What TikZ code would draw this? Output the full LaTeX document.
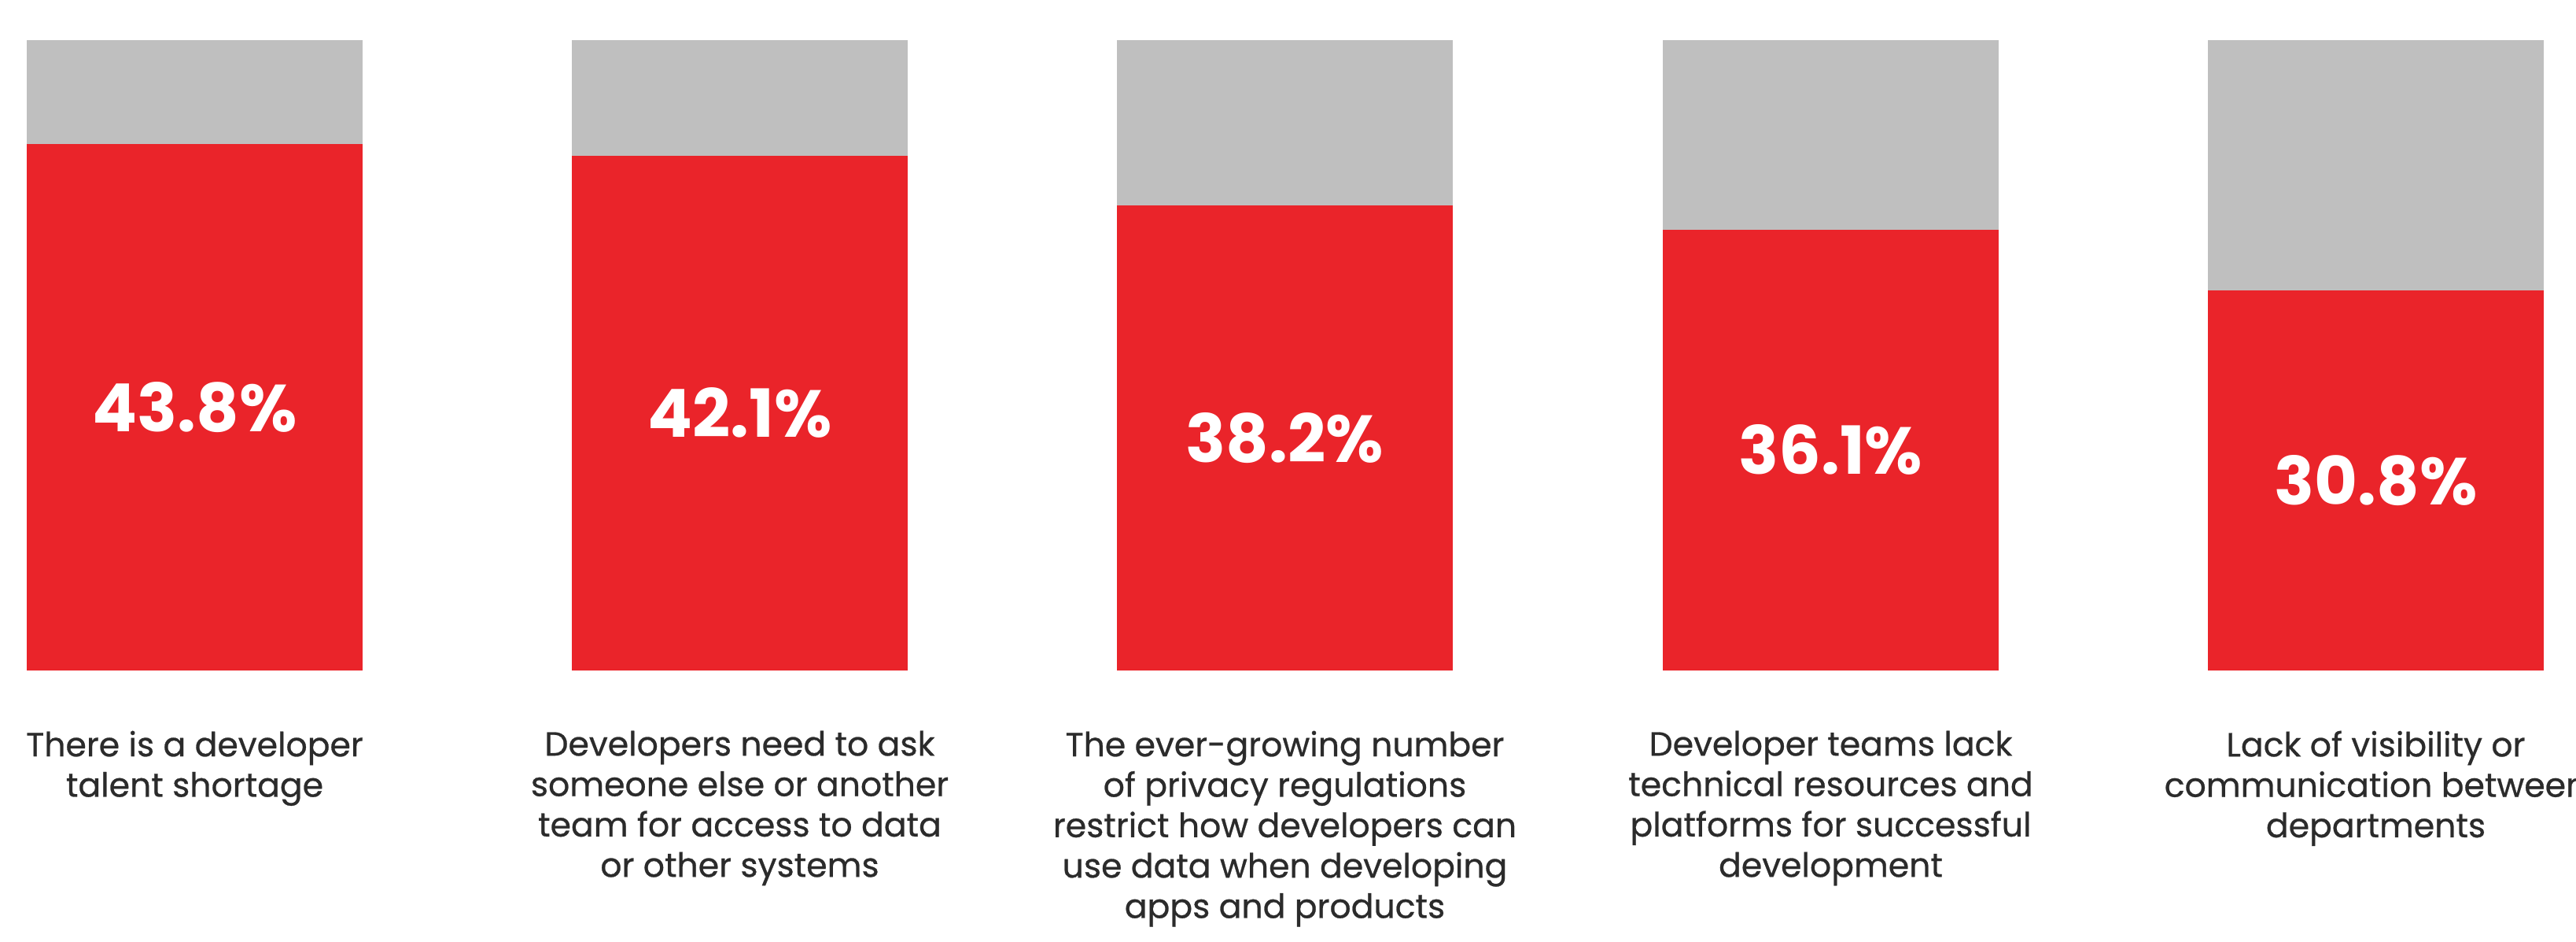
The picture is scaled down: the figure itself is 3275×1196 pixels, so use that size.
\documentclass[tikz,border=0pt]{standalone}
\usepackage{fontspec}
\setmainfont{Poppins}
\newfontfamily\descfont{Poppins}[FakeBold=0.6]
\definecolor{barred}{HTML}{EA242A}
\definecolor{bargray}{HTML}{BFBFBF}
\definecolor{txtgray}{HTML}{2B2B2B}
\begin{document}
\begin{tikzpicture}[x=0.01cm,y=-0.01cm,
  graybar/.style={fill=bargray,draw=none},
  redbar/.style={fill=barred,draw=none},
  pct/.style={text=white,font={\bfseries\fontsize{24}{28}\selectfont},inner sep=0pt,anchor=center},
  desc/.style={text=txtgray,font={\descfont\fontsize{12.1}{14.6}\selectfont},align=center,inner sep=0pt,anchor=north}
]
\useasboundingbox (0,0) rectangle (3275,1196);
\clip (0,0) rectangle (3275,1196);
\fill[white] (0,0) rectangle (3275,1196);
% bars: left x, red top
\foreach \n/\x/\r/\p in {1/34/183/43.8,2/727/198/42.1,3/1420/261/38.2,4/2114/292/36.1,5/2807/369/30.8}{
  \fill[graybar] (\x,51) rectangle ++(427,\r-51);
  \fill[redbar] (\x,\r) rectangle (\x+427,851.5);
  \node[pct] (p\n) at (\x+213.5,{(\r+851.5)/2}) {\p\%};
}
\node[desc] (d1) at (247.5,928) {There is a developer\\talent shortage};
\node[desc] (d2) at (940.5,928) {Developers need to ask\\someone else or another\\team for access to data\\or other systems};
\node[desc] (d3) at (1633.5,928) {The ever-growing number\\of privacy regulations\\restrict how developers can\\use data when developing\\apps and products};
\node[desc] (d4) at (2327.5,928) {Developer teams lack\\technical resources and\\platforms for successful\\development};
\node[desc] (d5) at (3020.5,928) {Lack of visibility or\\communication between\\departments};
\end{tikzpicture}
\end{document}
